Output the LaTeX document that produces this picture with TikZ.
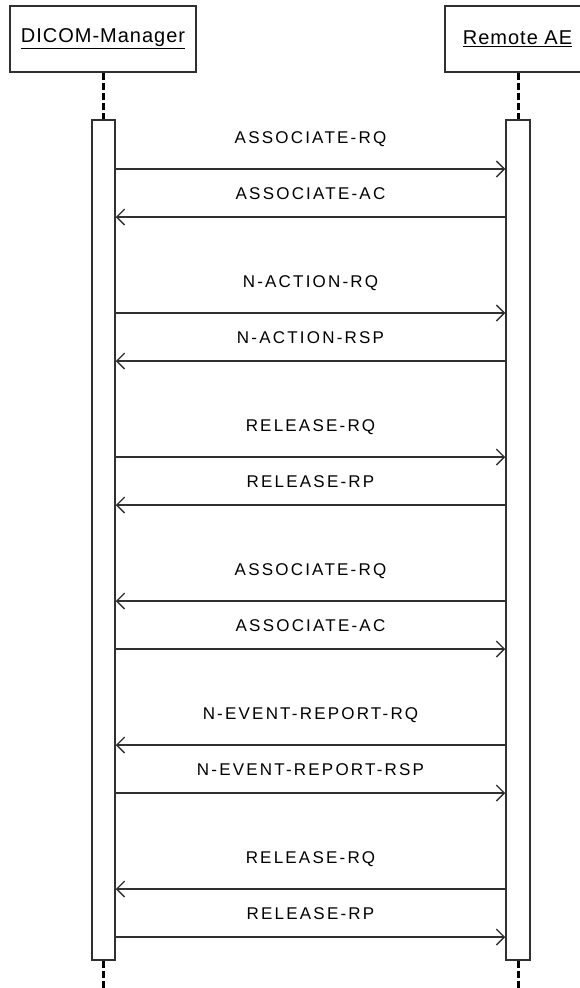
\documentclass[tikz,border=0pt]{standalone}
\usepackage{fontspec}
\setmainfont{Liberation Sans}
\newfontfamily\lblfont[LetterSpace=13]{Liberation Sans}
\newfontfamily\objfont[LetterSpace=5]{Liberation Sans}
\usetikzlibrary{arrows.meta}
\definecolor{ln}{HTML}{303030}
\begin{document}
\begin{tikzpicture}[x=1pt,y=-1pt,
  obj/.style={draw=ln,line width=1.6pt,fill=white,inner sep=0pt,
    font=\objfont\fontsize{20}{22}\selectfont},
  actbar/.style={draw=ln,line width=1.5pt,fill=white,inner sep=0pt,minimum height=840pt},
  life/.style={draw=black,line width=3pt,dash pattern=on 7pt off 3pt},
  msg/.style={draw=ln,line width=1.4pt,-{Straight Barb[length=8pt,width=16pt,line width=1.3pt]}},
  lbl/.style={inner sep=0pt,font=\lblfont\fontsize{17}{19}\selectfont}]
\useasboundingbox (0,0) rectangle (580,988);
\clip (0,0) rectangle (580,988);
\fill[white] (0,0) rectangle (580,988);
% object boxes
\node[obj,minimum width=186pt,minimum height=66pt] (mgr) at (103,39) {\underline{DICOM-Manager}};
\node[obj,minimum width=145pt,minimum height=66pt] (rae) at (517.5,39) {\underline{Remote AE}};
% activation bars
\node[actbar,minimum width=23pt] (mbar) at (103.5,540) {};
\node[actbar,minimum width=24pt] (rbar) at (518,540) {};
\coordinate (mend) at (103.5,992);
\coordinate (rend) at (518,992);
% lifelines
\draw[life] (mgr.south -| mbar.north) -- (mbar.north);
\draw[life] (rae.south -| rbar.north) -- (rbar.north);
\draw[life] (mbar.south) -- (mend);
\draw[life] (rbar.south) -- (rend);
% message rows
\foreach \i/\y in {1/169,2/217,3/313,4/361,5/457,6/505,7/601,8/649,9/745,10/793,11/889,12/937}
  \coordinate (r\i) at (0,\y);
% messages
\draw[msg] (mbar.east |- r1) -- (rbar.west |- r1);
\draw[msg] (rbar.west |- r2) -- (mbar.east |- r2);
\draw[msg] (mbar.east |- r3) -- (rbar.west |- r3);
\draw[msg] (rbar.west |- r4) -- (mbar.east |- r4);
\draw[msg] (mbar.east |- r5) -- (rbar.west |- r5);
\draw[msg] (rbar.west |- r6) -- (mbar.east |- r6);
\draw[msg] (rbar.west |- r7) -- (mbar.east |- r7);
\draw[msg] (mbar.east |- r8) -- (rbar.west |- r8);
\draw[msg] (rbar.west |- r9) -- (mbar.east |- r9);
\draw[msg] (mbar.east |- r10) -- (rbar.west |- r10);
\draw[msg] (rbar.west |- r11) -- (mbar.east |- r11);
\draw[msg] (mbar.east |- r12) -- (rbar.west |- r12);
% labels
\node[lbl] (l1) at (310.5,139) {ASSOCIATE-RQ};
\node[lbl] (l2) at (310.5,194) {ASSOCIATE-AC};
\node[lbl] (l3) at (310.5,283) {N-ACTION-RQ};
\node[lbl] (l4) at (310.5,338) {N-ACTION-RSP};
\node[lbl] (l5) at (310.5,427) {RELEASE-RQ};
\node[lbl] (l6) at (310.5,482) {RELEASE-RP};
\node[lbl] (l7) at (310.5,571) {ASSOCIATE-RQ};
\node[lbl] (l8) at (310.5,626) {ASSOCIATE-AC};
\node[lbl] (l9) at (310.5,715) {N-EVENT-REPORT-RQ};
\node[lbl] (l10) at (310.5,770) {N-EVENT-REPORT-RSP};
\node[lbl] (l11) at (310.5,859) {RELEASE-RQ};
\node[lbl] (l12) at (310.5,914) {RELEASE-RP};
\end{tikzpicture}
\end{document}
